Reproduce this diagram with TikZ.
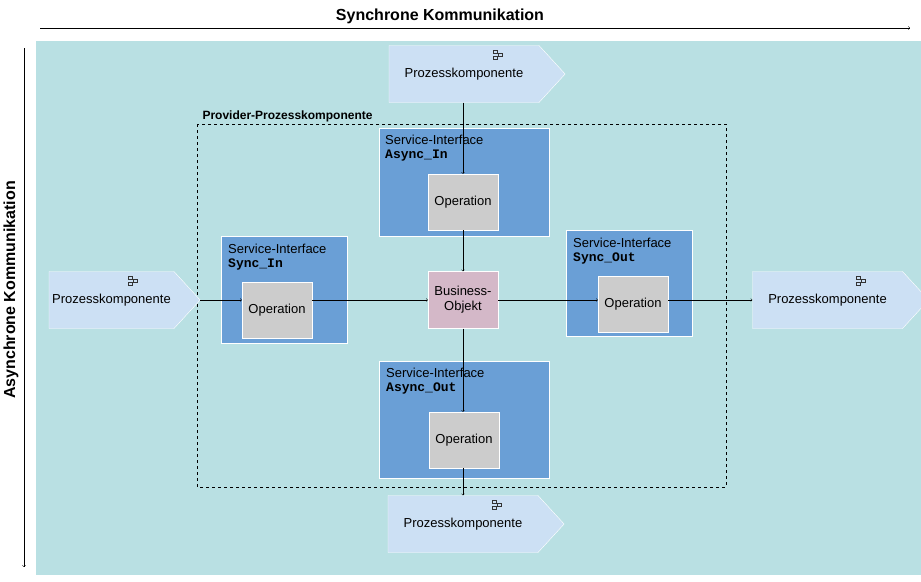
\documentclass[tikz,border=0pt]{standalone}
\usepackage{fontspec}
\setmainfont{Liberation Sans}
\setmonofont{Liberation Mono}
\usetikzlibrary{shapes.symbols,calc}
\definecolor{bgteal}{HTML}{B9E0E3}
\definecolor{pkblue}{HTML}{CCE0F4}
\definecolor{siblue}{HTML}{6A9FD6}
\definecolor{opgray}{HTML}{CCCCCC}
\definecolor{bopink}{HTML}{D4B8C8}
\begin{document}
\begin{tikzpicture}[x=1pt,y=-1pt,font=\fontsize{13}{15}\selectfont]
\tikzstyle{pk}=[shape=signal, signal to=east, signal pointer angle=95, fill=pkblue, draw=white,
  minimum width=170, minimum height=57, inner sep=0pt, text width=150, align=center]
\tikzstyle{op}=[draw=white, fill=opgray, minimum width=70, minimum height=56, inner sep=0pt]
\tikzstyle{flow}=[->, >=to, thin]
\newcommand{\pkicon}[1]{%
  \draw[gray!40!black, line width=0.6pt] ($(#1.north east)+(-46,5)$) rectangle ++(4,3)
    ($(#1.north east)+(-46,11)$) rectangle ++(4,3)
    ($(#1.north east)+(-41,8)$) rectangle ++(4,3);}
\useasboundingbox (0,0) rectangle (921,581);
\fill[white] (0,0) rectangle (921,581);
\fill[bgteal] (36,41) rectangle (921,575);
% Achsen
\node[font=\bfseries\fontsize{16}{18}\selectfont] (sync) at (440,16) {Synchrone Kommunikation};
\coordinate (syncA) at (40,28);
\coordinate (syncB) at (910,28);
\draw[flow] (syncA) -- (syncB);
\node[font=\bfseries\fontsize{16}{18}\selectfont, rotate=90] (async) at (11,290) {Asynchrone Kommunikation};
\coordinate (asyncA) at (24,48);
\coordinate (asyncB) at (24,567);
\draw[flow] (asyncA) -- (asyncB);
% Provider
\draw[dashed] (197,124) rectangle (726,487);
\node[anchor=west, font=\bfseries\fontsize{12}{14}\selectfont] (prov) at (199,116) {Provider-Prozesskomponente};
% Service-Interfaces
\fill[siblue, draw=white] (379,128) rectangle (549,236);
\node[anchor=north west, align=left, inner sep=0pt] (siAI) at (385,135) {Service-Interface\\[-1pt]\texttt{\bfseries Async\_In}};
\fill[siblue, draw=white] (221,236) rectangle (347,343);
\node[anchor=north west, align=left, inner sep=0pt] (siSI) at (228,244) {Service-Interface\\[-1pt]\texttt{\bfseries Sync\_In}};
\fill[siblue, draw=white] (566,230) rectangle (692,336);
\node[anchor=north west, align=left, inner sep=0pt] (siSO) at (573,238) {Service-Interface\\[-1pt]\texttt{\bfseries Sync\_Out}};
\fill[siblue, draw=white] (379,361) rectangle (549,478);
\node[anchor=north west, align=left, inner sep=0pt] (siAO) at (386,368) {Service-Interface\\[-1pt]\texttt{\bfseries Async\_Out}};
% Operationen
\node[op] (opAI) at (463,202) {Operation};
\node[op] (opSI) at (277,310) {Operation};
\node[op] (opSO) at (633,304) {Operation};
\node[op] (opAO) at (464,440) {Operation};
\node[draw=white, fill=bopink, minimum width=70, minimum height=57, inner sep=0pt, align=center] (bo) at (463,300) {Business-\\Objekt};
% Prozesskomponenten
\node[pk] (pkT) at (464,74) {Prozesskomponente};
\node[pk, minimum width=141, text width=125] (pkL) at (111.5,300) {Prozesskomponente};
\node[pk, minimum width=169] (pkR) at (827.5,300) {Prozesskomponente};
\node[pk] (pkB) at (463,524) {Prozesskomponente};
\pkicon{pkT} \pkicon{pkL} \pkicon{pkR} \pkicon{pkB}
% Verbindungen
\draw[flow] (pkT.south -| opAI) -- (opAI.north);
\draw[flow] (opAI.south) -- (bo.north);
\draw[flow] (pkL.east) -- (opSI.west |- pkL.east);
\draw[flow] (opSI.east |- bo) -- (bo.west);
\draw[flow] (bo.east) -- (opSO.west |- bo);
\draw[flow] (opSO.east |- bo) -- (pkR.west);
\draw[flow] (bo.south) -- (opAO.north -| bo);
\draw[flow] (opAO.south -| bo) -- (pkB.north -| bo);
\end{tikzpicture}
\end{document}
